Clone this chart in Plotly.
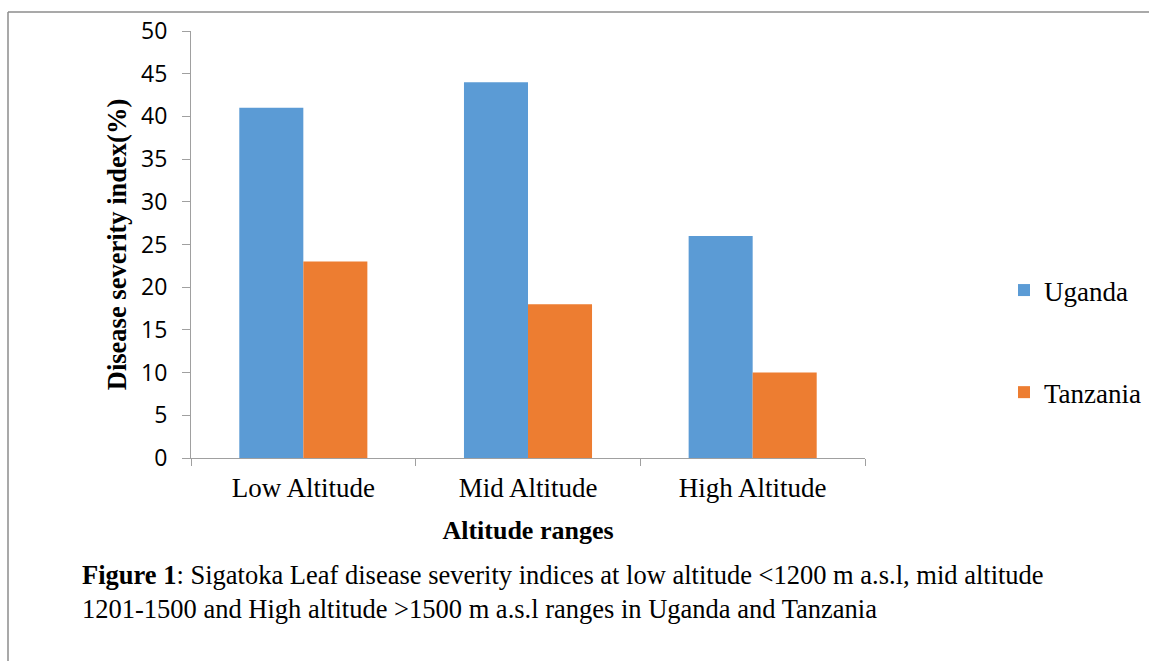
import plotly.graph_objects as go

categories = ["Low Altitude", "Mid Altitude", "High Altitude"]
uganda = [41, 44, 26]
tanzania = [23, 18, 10]
y_ticks = [0, 5, 10, 15, 20, 25, 30, 35, 40, 45, 50]

W, H = 1149, 661
L, R, T, B = 191, 865, 31, 458

def px(x):
    return (x - L) / (R - L)

def py(y):
    return (B - y) / (B - T)

fig = go.Figure()
fig.add_trace(go.Bar(x=categories, y=uganda, name="Uganda", marker_color="#5b9bd5",
                     marker_line_width=0, legendgroup="u"))
fig.add_trace(go.Bar(x=categories, y=tanzania, name="Tanzania", marker_color="#ed7d31",
                     marker_line_width=0, legendgroup="t"))

axis_col = "#a0a0a0"
serif = "Liberation Serif"
fig.update_layout(
    width=W, height=H,
    margin=dict(l=L, r=W - R, t=T, b=H - B, autoexpand=False),
    paper_bgcolor="white", plot_bgcolor="white",
    barmode="group", bargap=0.43, bargroupgap=0,
    showlegend=True,
    legend=dict(x=px(1004), y=py(266), xanchor="left", yanchor="top",
                font=dict(family=serif, size=27, color="black"),
                tracegroupgap=64, itemwidth=30, bgcolor="rgba(0,0,0,0)"),
    xaxis=dict(showline=True, linecolor=axis_col, linewidth=1,
               ticks="outside", tickson="boundaries", ticklen=7, tickcolor=axis_col,
               ticklabelstandoff=6,
               tickfont=dict(family=serif, size=27, color="black"),
               title=dict(text="<b>Altitude ranges</b>", standoff=18,
                          font=dict(family=serif, size=26, color="black"))),
    yaxis=dict(range=[0, 50], tickvals=y_ticks, showgrid=False, zeroline=False,
               showline=True, linecolor=axis_col, linewidth=1,
               ticks="outside", ticklen=8, tickcolor=axis_col,
               ticklabelstandoff=10,
               tickfont=dict(family="Open Sans", size=23, color="black"),
               title=dict(text="<b>Disease severity index(%)</b>", standoff=6,
                          font=dict(family=serif, size=26.5, color="black"))),
)

# frame lines
fig.add_shape(type="line", xref="paper", yref="paper",
              x0=px(8), x1=px(1149), y0=py(12), y1=py(12),
              line=dict(color="#8c8c8c", width=1.5))
fig.add_shape(type="line", xref="paper", yref="paper",
              x0=px(8), x1=px(8), y0=py(12), y1=py(661),
              line=dict(color="#8c8c8c", width=1.5))

fig.add_annotation(
    xref="paper", yref="paper", x=px(80), y=py(592), xanchor="left", yanchor="middle",
    align="left", showarrow=False,
    text=("<b>Figure 1</b>: Sigatoka Leaf disease severity indices at low altitude &lt;1200 m a.s.l, mid altitude<br>"
          "1201-1500 and High altitude &gt;1500 m a.s.l ranges in Uganda and Tanzania"),
    font=dict(family=serif, size=26.5, color="black"),
)

fig.write_html("out.html")
